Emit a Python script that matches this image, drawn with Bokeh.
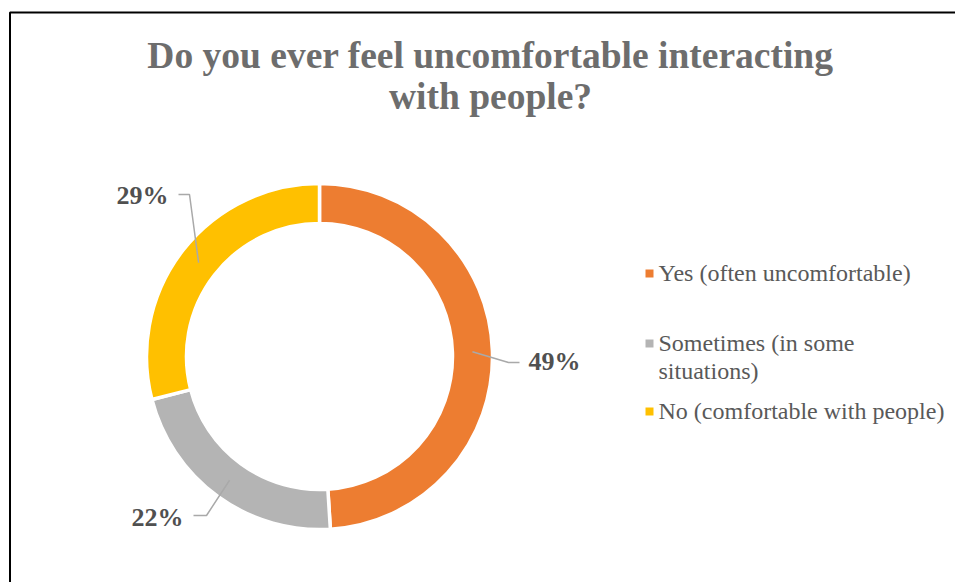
import math
from bokeh.plotting import figure
from bokeh.models import Range1d
from bokeh.core.properties import value
from bokeh.embed import file_html
from bokeh.resources import INLINE

# ---- data ----
title_lines = ["Do you ever feel uncomfortable interacting", "with people?"]
categories = ["Yes (often uncomfortable)", "Sometimes (in some\nsituations)", "No (comfortable with people)"]
percent = [49, 22, 29]
colors = ["#ED7D31", "#B4B4B4", "#FFC000"]

# ---- layout (pixel coordinates, top-down) ----
W, H = 955, 582
CX, CY = 319, 356
R_OUT, R_IN = 173, 133
R_LEAD = 153
label_elbow = [(508, 362), (206, 515), (189, 194)]
label_end = [(519, 362), (193, 515), (178, 194)]
label_pos = [(528, 361), (183, 517), (168, 195)]
label_align = ["left", "right", "right"]
legend_x, legend_text_x = 649, 658
legend_marker_y = [273, 343, 411]
legend_baselines = [272, 342, 410]
legend_line_step = 28
title_x = 490
title_baselines = [55, 96]

SERIF = value("Liberation Serif")


def fy(y):
    return H - y


p = figure(width=W, height=H, x_range=Range1d(0, W), y_range=Range1d(0, H),
           x_axis_type=None, y_axis_type=None, toolbar_location=None,
           output_backend="svg", min_border=0, outline_line_color=None,
           background_fill_color="white", border_fill_color="white")
p.grid.visible = False

# chart border
p.quad(left=[9.5], right=[W + 20], top=[fy(12)], bottom=[-20],
       fill_color=None, line_color="#000000", line_width=2)

# title
for i, t in enumerate(title_lines):
    p.text(x=[title_x], y=[fy(title_baselines[i])], text=[t], text_font=SERIF,
           text_font_style="bold", text_font_size="37.5px", text_color="#6d6d6d",
           text_align="center", text_baseline="alphabetic")

# donut
total = float(sum(percent))
cum = 0.0
starts, ends, mids = [], [], []
for v in percent:
    f0 = cum / total
    f1 = (cum + v) / total
    starts.append(math.pi / 2 - 2 * math.pi * f1)
    ends.append(math.pi / 2 - 2 * math.pi * f0)
    mids.append(math.pi / 2 - 2 * math.pi * (f0 + f1) / 2)
    cum += v

p.annular_wedge(x=[CX] * len(percent), y=[fy(CY)] * len(percent),
                inner_radius=R_IN, outer_radius=R_OUT,
                start_angle=starts, end_angle=ends, direction="anticlock",
                fill_color=colors, line_color="white", line_width=3.5)

# leader lines + labels
for i, v in enumerate(percent):
    sx = CX + R_LEAD * math.cos(mids[i])
    sy = fy(CY) + R_LEAD * math.sin(mids[i])
    xs = [sx, label_elbow[i][0], label_end[i][0]]
    ys = [sy, fy(label_elbow[i][1]), fy(label_end[i][1])]
    p.line(xs, ys, line_color="#A9A9A9", line_width=1.5)
    p.text(x=[label_pos[i][0]], y=[fy(label_pos[i][1])], text=[f"{v}%"],
           text_font=SERIF, text_font_style="bold", text_font_size="26px",
           text_color="#505050", text_align=label_align[i], text_baseline="alphabetic")

# legend
for i, cat in enumerate(categories):
    b = legend_baselines[i]
    p.scatter(x=[legend_x], y=[fy(legend_marker_y[i])], marker="square", size=8,
              fill_color=colors[i], line_color=None)
    for j, line in enumerate(cat.split("\n")):
        p.text(x=[legend_text_x], y=[fy(b + j * legend_line_step)], text=[line],
               text_font=SERIF, text_font_size="24px", text_color="#595959",
               text_align="left", text_baseline="alphabetic")

open("out.html", "w").write(file_html(p, INLINE))
